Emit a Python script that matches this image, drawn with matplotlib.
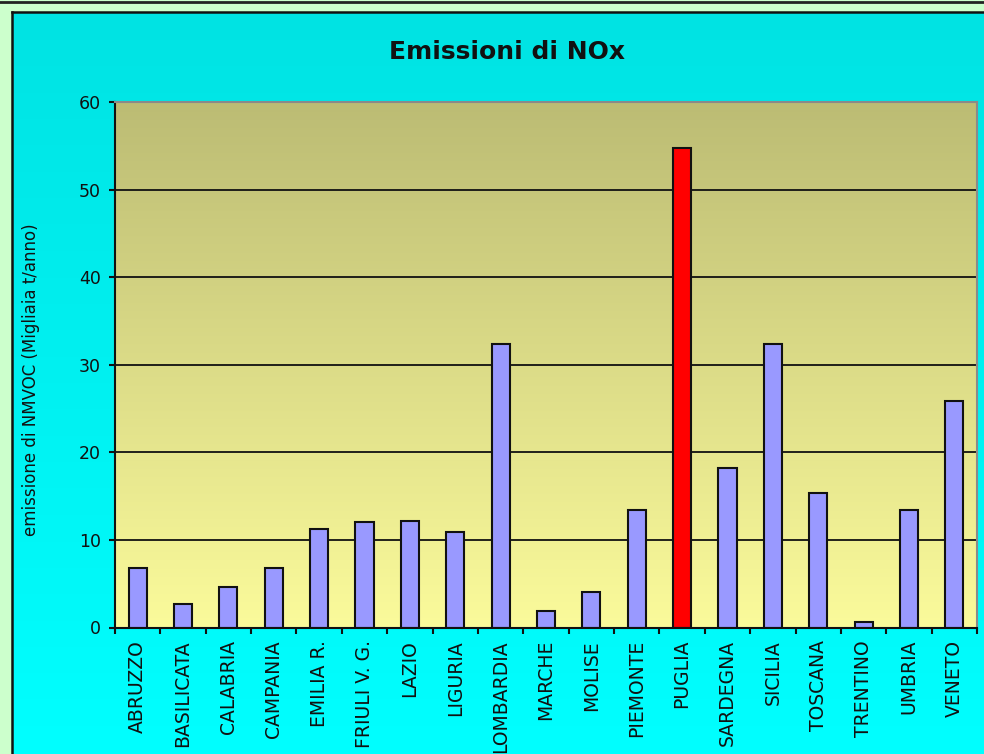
import numpy as np
import matplotlib
matplotlib.use("Agg")
import matplotlib.pyplot as plt
from matplotlib.colors import LinearSegmentedColormap
from matplotlib.lines import Line2D

# NOx emissions per region (thousand t/year)
regions = ["ABRUZZO", "BASILICATA", "CALABRIA", "CAMPANIA", "EMILIA R.",
           "FRIULI V. G.", "LAZIO", "LIGURIA", "LOMBARDIA", "MARCHE",
           "MOLISE", "PIEMONTE", "PUGLIA", "SARDEGNA", "SICILIA",
           "TOSCANA", "TRENTINO", "UMBRIA", "VENETO"]
emissions = [6.8, 2.7, 4.6, 6.8, 11.2, 12.0, 12.2, 10.9, 32.4, 1.9,
             4.1, 13.4, 54.7, 18.2, 32.4, 15.3, 0.6, 13.4, 25.9]
highlight = "PUGLIA"
y_ticks = [0, 10, 20, 30, 40, 50, 60]

W, H = 984, 754
fig = plt.figure(figsize=(W / 100, H / 100), dpi=100)
fig.patch.set_facecolor("#ccffcc")

# cyan chart area with a soft vertical gradient
bg = fig.add_axes([12 / W, 0, 1 - 12 / W, 1 - 12 / H])
cyan = LinearSegmentedColormap.from_list("cy", ["#00ffff", "#00e3e3"])
bg.imshow(np.linspace(0, 1, 256)[::-1].reshape(-1, 1), cmap=cyan,
          aspect="auto", extent=[0, 1, 0, 1], origin="upper")
bg.set_xlim(0, 1)
bg.set_ylim(0, 1)
bg.set_xticks([])
bg.set_yticks([])
for side in ["right", "bottom"]:
    bg.spines[side].set_visible(False)
for side in ["left", "top"]:
    bg.spines[side].set_linewidth(1.8)
    bg.spines[side].set_color("#111111")
bg.set_zorder(0)

fig.add_artist(Line2D([0, 1], [1 - 1.5 / H, 1 - 1.5 / H], color="#222222", lw=2.0,
                      transform=fig.transFigure))

left, right, top, bottom = 115, 977, 102, 627.5
ax = fig.add_axes([left / W, 1 - bottom / H, (right - left) / W, (bottom - top) / H])
ax.set_zorder(1)

x = np.arange(len(regions))
ax.set_xlim(-0.5, len(regions) - 0.5)
ax.set_ylim(0, 60)

# olive-to-pale-yellow plot background
wall = LinearSegmentedColormap.from_list("wall", ["#fbfb9b", "#bcbc74"])
ax.imshow(np.linspace(0, 1, 256).reshape(-1, 1), cmap=wall, aspect="auto",
          extent=[-0.5, len(regions) - 0.5, 0, 60], origin="lower", zorder=0)

for yv in y_ticks[1:-1]:
    ax.axhline(yv, color="#111111", lw=1.3, zorder=1)

colors = ["#ff0000" if r == highlight else "#9999ff" for r in regions]
ax.bar(x, emissions, width=0.4, color=colors, edgecolor="#111111", lw=1.5, zorder=2)

ax.spines["left"].set_color("#111111")
ax.spines["left"].set_linewidth(1.5)
ax.spines["bottom"].set_color("#111111")
ax.spines["bottom"].set_linewidth(1.5)
ax.spines["top"].set_color("#8a8a8a")
ax.spines["right"].set_color("#8a8a8a")
ax.spines["top"].set_linewidth(1.5)
ax.spines["right"].set_linewidth(1.5)
for s in ax.spines.values():
    s.set_zorder(3)

ax.set_yticks(y_ticks)
ax.set_yticklabels([str(v) for v in y_ticks], fontsize=12.5, color="#111111")
ax.tick_params(axis="y", direction="out", length=4, width=1.5, pad=6, color="#111111")

ax.set_xticks(x)
ax.set_xticklabels(regions, rotation=90, fontsize=13.5, color="#111111")
ax.set_xticks(np.arange(-0.5, len(regions)), minor=True)
ax.tick_params(axis="x", which="major", length=0, pad=9)
ax.tick_params(axis="x", which="minor", direction="out", length=4, width=1.5, color="#111111")

fig.text(507 / W, 1 - 52 / H, "Emissioni di NOx", fontsize=18, fontweight="bold",
         ha="center", va="center", color="#111111")
fig.text(31 / W, 1 - 380 / H, "emissione di NMVOC (Migliaia t/anno)", fontsize=12,
         rotation=90, ha="center", va="center", color="#111111")

fig.savefig("out.png", dpi=100, facecolor=fig.get_facecolor())
